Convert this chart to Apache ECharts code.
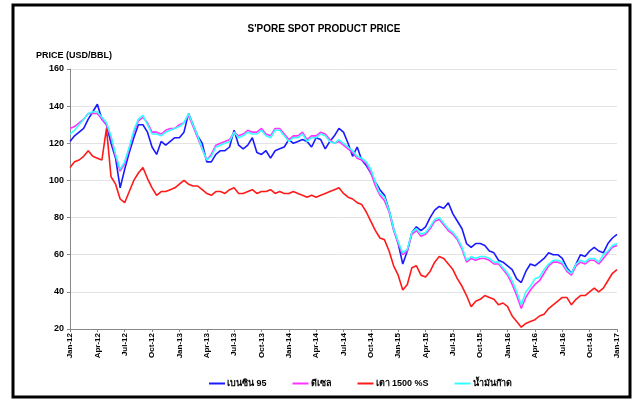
<!DOCTYPE html>
<html>

<head>
    <meta charset="utf-8">
    <title>S'PORE SPOT PRODUCT PRICE</title>
    <script src="https://cdn.jsdelivr.net/npm/echarts@6/dist/echarts.min.js"></script>
    <style>
        html, body { margin: 0; padding: 0; background: #fff; }
    </style>
</head>

<body>
    <div id="chart" style="width: 637px; height: 403px;"></div>

    <script>
        // semi-monthly points, Jan-12 .. Jan-17 (121 points)
        var monthNames = ['Jan', 'Feb', 'Mar', 'Apr', 'May', 'Jun', 'Jul', 'Aug', 'Sep', 'Oct', 'Nov', 'Dec'];
        var startYear = 2012;
        var pointCount = 121;

        var seriesNames = ['เบนซิน 95', 'ดีเซล', 'เตา 1500 %S', 'น้ำมันก๊าด'];

        var gasoline95 = [
            121, 124, 126, 128, 133, 137, 141, 133, 130, 120,
            112, 96, 106, 115, 123, 130, 130, 126, 118, 114,
            121, 119, 121, 123, 123, 126, 136, 130, 124, 120,
            110, 110, 114, 116, 116, 118, 127, 119, 117, 119,
            123, 115, 114, 116, 112, 116, 117, 118, 122, 120,
            121, 122, 121, 118, 123, 122, 117, 121, 124, 128,
            126, 120, 113, 118, 111, 108, 104, 99, 95, 92,
            84, 74, 66, 55, 62, 72, 75, 73, 75, 80,
            84, 86, 85, 88, 82, 78, 74, 66, 64, 66,
            66, 65, 62, 61, 57, 56, 54, 52, 47, 45,
            51, 55, 54, 56, 58, 61, 60, 60, 58, 53,
            50, 55, 60, 59, 62, 64, 62, 61, 66, 69, 71
        ];

        var diesel = [
            128, 129, 131, 133, 136, 136, 136, 133, 130, 123,
            113, 105, 109, 117, 126, 132, 134, 131, 126, 126,
            125, 127, 128, 128, 130, 131, 135, 129, 123, 117,
            111, 114, 119, 120, 121, 122, 126, 124, 125, 127,
            126, 126, 128, 125, 124, 128, 128, 125, 122, 124,
            124, 126, 122, 124, 124, 126, 125, 122, 120, 121,
            119, 117, 115, 112, 111, 109, 104, 97, 92, 89,
            83, 73, 66, 60, 62, 71, 73, 70, 71, 74,
            78, 79, 76, 73, 71, 68, 63, 56, 58, 57,
            58, 58, 57, 55, 55, 52, 49, 44, 38, 31,
            37, 41, 44, 46, 50, 54, 56, 56, 55, 51,
            49, 54, 56, 55, 57, 57, 55, 58, 61, 64, 65
        ];

        var fuelOil = [
            107, 110, 111, 113, 116, 113, 112, 111, 128, 102,
            98, 90, 88, 94, 100, 104, 107, 101, 96, 92,
            94, 94, 95, 96, 98, 100, 98, 97, 97, 95,
            93, 92, 94, 94, 93, 95, 96, 93, 93, 94,
            95, 93, 94, 94, 95, 93, 94, 93, 93, 94,
            93, 92, 91, 92, 91, 92, 93, 94, 95, 96,
            93, 91, 90, 88, 87, 83, 78, 73, 69, 68,
            62, 54, 49, 41, 44, 53, 54, 49, 48, 51,
            56, 59, 58, 55, 52, 47, 43, 38, 32, 35,
            36, 38, 37, 36, 33, 34, 32, 27, 24, 21,
            23, 24, 25, 27, 28, 31, 33, 35, 37, 37,
            33, 36, 38, 38, 40, 42, 40, 42, 46, 50, 52
        ];

        var kerosene = [
            125, 127, 130, 133, 136, 137, 137, 134, 131, 124,
            114, 106, 110, 118, 127, 133, 135, 130, 125, 125,
            124, 126, 127, 128, 129, 131, 136, 130, 124, 117,
            111, 113, 118, 119, 120, 121, 126, 123, 124, 126,
            125, 125, 127, 124, 123, 127, 127, 124, 121, 123,
            123, 125, 121, 123, 123, 125, 124, 121, 120, 122,
            120, 118, 116, 113, 112, 110, 106, 99, 93, 91,
            84, 74, 67, 61, 63, 72, 74, 71, 72, 75,
            79, 80, 77, 74, 72, 69, 64, 57, 59, 58,
            59, 59, 58, 56, 56, 53, 50, 46, 40, 33,
            40, 43, 47, 48, 52, 55, 57, 57, 56, 52,
            50, 55, 57, 56, 58, 58, 56, 60, 62, 65, 66
        ];

        var lineColors = ['#1a1aff', '#ff33ff', '#ff1a1a', '#33ffff'];

        // category labels: 'Jan-12' on the 1st of a month, 'Jan-12 (16)' on the 16th
        var categories = [];
        for (var i = 0; i < pointCount; i++) {
            var m = Math.floor(i / 2);
            var yy = String(startYear + Math.floor(m / 12)).slice(2);
            categories.push(i % 2 === 0 ? monthNames[m % 12] + '-' + yy : monthNames[m % 12] + '-' + yy + ' (16)');
        }

        var fontFamily = 'Liberation Sans, DejaVu Sans, sans-serif';

        var chart = echarts.init(document.getElementById('chart'));

        var option = {
            animation: false,
            backgroundColor: '#fff',
            title: [{
                text: "S'PORE SPOT PRODUCT PRICE",
                left: 319,
                top: 19,
                textAlign: 'center',
                textStyle: { fontFamily: fontFamily, fontSize: 10, fontWeight: 'bold', color: '#000' }
            }, {
                text: 'PRICE (USD/BBL)',
                left: 31,
                top: 46,
                textStyle: { fontFamily: fontFamily, fontSize: 9, fontWeight: 'bold', color: '#000' }
            }],
            graphic: [{
                type: 'rect',
                shape: { x: 13, y: 5, width: 617, height: 392 },
                style: { fill: 'none', stroke: '#000', lineWidth: 3 },
                silent: true
            }],
            legend: {
                data: seriesNames,
                left: 204,
                top: 374,
                icon: 'rect',
                itemWidth: 16,
                itemHeight: 2,
                itemGap: 26,
                textStyle: { fontFamily: fontFamily, fontSize: 9, fontWeight: 'bold', color: '#000', padding: [0, 0, 0, -3] }
            },
            grid: { left: 70, right: 20, top: 69, bottom: 74 },
            xAxis: {
                type: 'category',
                data: categories,
                boundaryGap: false,
                axisLine: { lineStyle: { color: '#888' } },
                axisTick: { interval: 5, length: 3, lineStyle: { color: '#888' } },
                axisLabel: {
                    interval: 5,
                    rotate: 90,
                    margin: 4,
                    fontFamily: fontFamily,
                    fontSize: 8,
                    fontWeight: 'bold',
                    color: '#000',
                    formatter: function (v) { return v.split(' ')[0]; }
                },
                splitLine: { show: false }
            },
            yAxis: {
                type: 'value',
                min: 20,
                max: 160,
                interval: 20,
                axisLine: { show: true, lineStyle: { color: '#888' } },
                axisTick: { show: true, length: 3, lineStyle: { color: '#888' } },
                axisLabel: {
                    margin: 6,
                    fontFamily: fontFamily,
                    fontSize: 9,
                    fontWeight: 'bold',
                    color: '#000'
                },
                splitLine: { lineStyle: { color: '#e3e3e3' } }
            },
            series: [gasoline95, diesel, fuelOil, kerosene].map(function (vals, k) {
                return {
                    name: seriesNames[k],
                    type: 'line',
                    data: vals,
                    showSymbol: false,
                    symbol: 'none',
                    color: lineColors[k],
                    lineStyle: { width: 1.6, color: lineColors[k] }
                };
            })
        };

        chart.setOption(option);
    </script>
</body>

</html>
